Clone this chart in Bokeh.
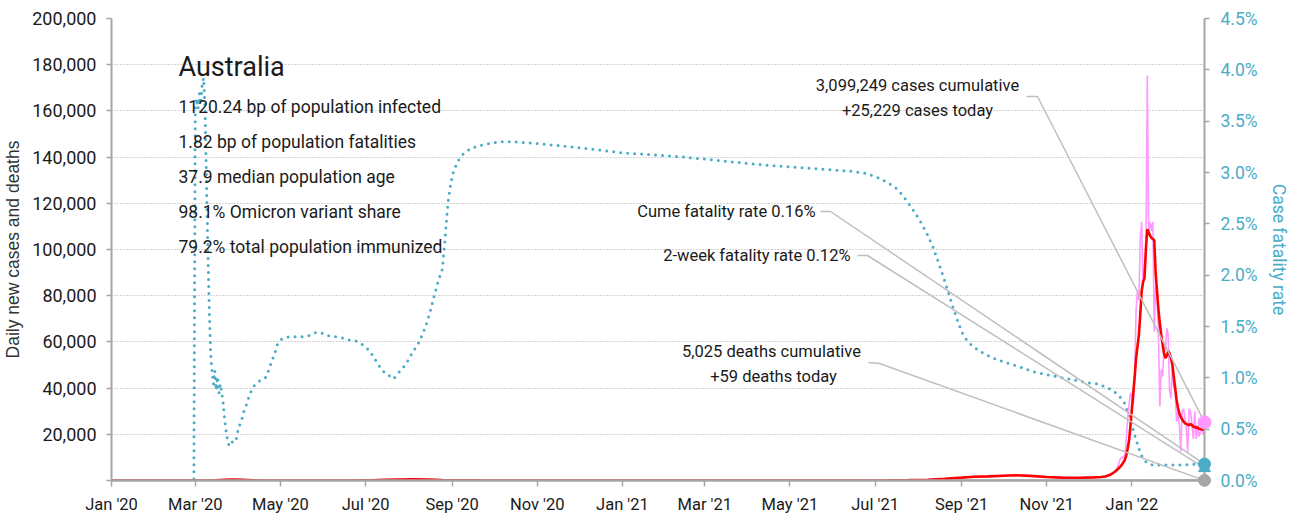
import pandas as pd
from bokeh.plotting import figure
from bokeh.models import (Range1d, LinearAxis, FixedTicker, NumeralTickFormatter,
                          PrintfTickFormatter, DatetimeTickFormatter, Label)
from bokeh.embed import file_html
from bokeh.resources import INLINE

# ---------------- data ----------------
country = "Australia"
info_lines = [
    "1120.24 bp of population infected",
    "1.82 bp of population fatalities",
    "37.9 median population age",
    "98.1% Omicron variant share",
    "79.2% total population immunized",
]

# cumulative case fatality rate (%), right axis
cfr_dates = ["2020-01-01", "2020-02-29", "2020-03-01", "2020-03-02", "2020-03-03", "2020-03-04",
             "2020-03-05", "2020-03-06", "2020-03-07", "2020-03-08", "2020-03-09", "2020-03-10",
             "2020-03-11", "2020-03-12", "2020-03-13", "2020-03-14", "2020-03-15", "2020-03-16",
             "2020-03-17", "2020-03-18", "2020-03-19", "2020-03-20", "2020-03-21", "2020-03-22",
             "2020-03-23", "2020-03-24", "2020-03-25", "2020-03-26", "2020-03-28", "2020-03-30",
             "2020-04-01", "2020-04-03", "2020-04-05", "2020-04-07", "2020-04-09", "2020-04-12",
             "2020-04-16", "2020-04-21", "2020-04-23", "2020-04-25", "2020-04-27", "2020-04-29",
             "2020-05-02", "2020-05-07", "2020-05-12", "2020-05-17", "2020-05-21", "2020-05-26",
             "2020-05-30", "2020-06-04", "2020-06-09", "2020-06-14", "2020-06-19", "2020-06-24",
             "2020-06-28", "2020-07-02", "2020-07-06", "2020-07-10", "2020-07-14", "2020-07-18",
             "2020-07-21", "2020-07-24", "2020-07-28", "2020-08-01", "2020-08-04", "2020-08-07",
             "2020-08-10", "2020-08-13", "2020-08-16", "2020-08-19", "2020-08-22", "2020-08-25",
             "2020-08-27", "2020-08-29", "2020-08-31", "2020-09-02", "2020-09-05", "2020-09-09",
             "2020-09-14", "2020-09-20", "2020-09-27", "2020-10-05", "2020-10-15", "2020-10-25",
             "2020-11-10", "2020-11-25", "2020-12-15", "2021-01-01", "2021-01-15", "2021-02-15",
             "2021-03-15", "2021-04-15", "2021-05-15", "2021-06-15", "2021-06-25", "2021-07-05",
             "2021-07-10", "2021-07-15", "2021-07-20", "2021-07-25", "2021-07-30", "2021-08-03",
             "2021-08-07", "2021-08-11", "2021-08-14", "2021-08-17", "2021-08-20", "2021-08-23",
             "2021-08-26", "2021-08-29", "2021-09-01", "2021-09-04", "2021-09-08", "2021-09-13",
             "2021-09-18", "2021-09-24", "2021-10-02", "2021-10-12", "2021-10-22", "2021-11-05",
             "2021-11-20", "2021-12-01", "2021-12-08", "2021-12-15", "2021-12-22", "2021-12-27",
             "2021-12-31", "2022-01-03", "2022-01-06", "2022-01-09", "2022-01-12", "2022-01-16",
             "2022-01-25", "2022-02-05", "2022-02-15", "2022-02-22"]
cfr_pct = [0, 0, 3.65, 3.72, 3.62, 3.77,
           3.67, 3.87, 3.92, 3.62, 2.94, 2.26,
           1.68, 1.24, 1.07, 0.94, 1.07, 0.88,
           1.01, 0.85, 0.94, 0.85, 0.75, 0.60,
           0.49, 0.41, 0.35, 0.39, 0.37, 0.38,
           0.51, 0.58, 0.68, 0.75, 0.84, 0.92,
           0.97, 1.01, 1.09, 1.17, 1.24, 1.33,
           1.38, 1.40, 1.40, 1.40, 1.41, 1.44,
           1.44, 1.41, 1.40, 1.39, 1.37, 1.36,
           1.33, 1.29, 1.22, 1.13, 1.06, 1.02,
           0.99, 1.04, 1.10, 1.18, 1.26, 1.31,
           1.40, 1.50, 1.63, 1.79, 1.94, 2.06,
           2.36, 2.70, 2.89, 3.01, 3.11, 3.18,
           3.23, 3.26, 3.28, 3.30, 3.30, 3.29,
           3.27, 3.25, 3.22, 3.19, 3.18, 3.15,
           3.11, 3.07, 3.04, 3.01, 2.99, 2.94,
           2.90, 2.86, 2.79, 2.70, 2.60, 2.51,
           2.41, 2.29, 2.18, 2.06, 1.94, 1.81,
           1.68, 1.56, 1.45, 1.38, 1.32, 1.27,
           1.23, 1.19, 1.15, 1.11, 1.06, 1.02,
           0.98, 0.95, 0.94, 0.90, 0.84, 0.75,
           0.58, 0.44, 0.31, 0.21, 0.17, 0.15,
           0.15, 0.15, 0.16, 0.16]

# 7-day average of daily new cases
avg_dates = ["2020-01-01", "2020-02-25", "2020-03-08", "2020-03-15", "2020-03-22", "2020-03-28",
             "2020-04-04", "2020-04-12", "2020-04-20", "2020-05-01", "2020-05-20", "2020-06-10",
             "2020-06-25", "2020-07-05", "2020-07-15", "2020-07-25", "2020-08-05", "2020-08-15",
             "2020-08-25", "2020-09-05", "2020-09-20", "2020-10-10", "2020-11-10", "2020-12-25",
             "2021-01-10", "2021-02-15", "2021-04-01", "2021-05-15", "2021-06-25", "2021-07-10",
             "2021-07-25", "2021-08-08", "2021-08-20", "2021-09-01", "2021-09-10", "2021-09-20",
             "2021-10-01", "2021-10-10", "2021-10-20", "2021-11-01", "2021-11-12", "2021-11-25",
             "2021-12-05", "2021-12-10", "2021-12-13", "2021-12-17", "2021-12-20", "2021-12-23",
             "2021-12-25", "2021-12-27", "2021-12-28", "2021-12-29", "2021-12-30", "2021-12-31",
             "2022-01-01", "2022-01-02", "2022-01-03", "2022-01-04", "2022-01-05", "2022-01-06",
             "2022-01-07", "2022-01-08", "2022-01-09", "2022-01-10", "2022-01-11", "2022-01-12",
             "2022-01-13", "2022-01-14", "2022-01-15", "2022-01-16", "2022-01-17", "2022-01-18",
             "2022-01-19", "2022-01-20", "2022-01-21", "2022-01-22", "2022-01-23", "2022-01-24",
             "2022-01-25", "2022-01-26", "2022-01-27", "2022-01-28", "2022-01-29", "2022-01-30",
             "2022-01-31", "2022-02-01", "2022-02-02", "2022-02-03", "2022-02-04", "2022-02-05",
             "2022-02-06", "2022-02-07", "2022-02-08", "2022-02-09", "2022-02-10", "2022-02-11",
             "2022-02-12", "2022-02-13", "2022-02-14", "2022-02-15", "2022-02-16", "2022-02-17",
             "2022-02-18", "2022-02-19", "2022-02-20", "2022-02-21", "2022-02-22"]
avg_cases = [0, 2, 15, 60, 250, 380,
             280, 100, 30, 18, 15, 12,
             40, 100, 250, 400, 550, 420,
             230, 100, 35, 20, 12, 20,
             15, 8, 10, 10, 25, 80,
             170, 350, 750, 1250, 1650, 1800,
             2050, 2250, 2000, 1500, 1250, 1200,
             1350, 1500, 1700, 2600, 3900, 5500,
             7000, 9000, 11000, 14000, 17500, 24000,
             31000, 38000, 45000, 53000, 58000, 63000,
             72000, 82000, 86000, 87500, 100000, 108700,
             107500, 106000, 105000, 104500, 104000, 90000,
             82000, 74000, 68000, 63000, 59000, 55000,
             53000, 54000, 56000, 55000, 53000, 50000,
             45000, 40000, 35000, 31500, 29000, 27500,
             26500, 25500, 24800, 24500, 24200, 23800,
             24500, 24000, 23300, 23200, 22800, 23000,
             22300, 22400, 22000, 22200, 22100]

# daily new cases
daily_dates = ["2020-01-01", "2020-02-25", "2020-03-08", "2020-03-15", "2020-03-22", "2020-03-28",
               "2020-04-04", "2020-04-12", "2020-04-20", "2020-05-01", "2020-06-10", "2020-07-05",
               "2020-07-15", "2020-07-25", "2020-08-05", "2020-08-15", "2020-08-25", "2020-09-05",
               "2020-09-20", "2020-11-10", "2021-02-15", "2021-06-25", "2021-07-25", "2021-08-08",
               "2021-08-20", "2021-09-01", "2021-09-10", "2021-09-20", "2021-10-01", "2021-10-10",
               "2021-10-20", "2021-11-01", "2021-11-12", "2021-11-25", "2021-12-05", "2021-12-12",
               "2021-12-15", "2021-12-17", "2021-12-19", "2021-12-21", "2021-12-22", "2021-12-23",
               "2021-12-24", "2021-12-25", "2021-12-26", "2021-12-27", "2021-12-28", "2021-12-29",
               "2021-12-30", "2021-12-31", "2022-01-01", "2022-01-02", "2022-01-03", "2022-01-04",
               "2022-01-05", "2022-01-06", "2022-01-07", "2022-01-08", "2022-01-09", "2022-01-10",
               "2022-01-11", "2022-01-12", "2022-01-13", "2022-01-14", "2022-01-15", "2022-01-16",
               "2022-01-17", "2022-01-18", "2022-01-19", "2022-01-20", "2022-01-21", "2022-01-22",
               "2022-01-23", "2022-01-24", "2022-01-25", "2022-01-26", "2022-01-27", "2022-01-28",
               "2022-01-29", "2022-01-30", "2022-01-31", "2022-02-01", "2022-02-02", "2022-02-03",
               "2022-02-04", "2022-02-05", "2022-02-06", "2022-02-07", "2022-02-08", "2022-02-09",
               "2022-02-10", "2022-02-11", "2022-02-12", "2022-02-13", "2022-02-14", "2022-02-15",
               "2022-02-16", "2022-02-17", "2022-02-18", "2022-02-19", "2022-02-20", "2022-02-21",
               "2022-02-22"]
daily_cases = [0, 3, 20, 70, 280, 400,
               250, 90, 25, 15, 10, 110,
               270, 420, 600, 400, 200, 90,
               30, 10, 8, 30, 180, 380,
               800, 1300, 1700, 1850, 2100, 2300,
               1950, 1450, 1200, 1250, 1400, 1600,
               2300, 3000, 3500, 4600, 6300, 8300,
               9700, 9500, 10500, 11000, 18000, 27000,
               33000, 38000, 36000, 33000, 45000, 74000,
               82000, 78000, 105000, 112000, 84000, 93000,
               96000, 175300, 108000, 112000, 108000, 112000,
               64500, 84000, 82000, 63000, 32000, 48000,
               45000, 58000, 56000, 66000, 63000, 38500,
               35500, 50000, 40000, 38500, 25500, 30000,
               24000, 12500, 30000, 31000, 27000, 22500,
               12500, 31000, 30000, 24000, 18000, 30000,
               18000, 24000, 19000, 21000, 23000, 20000,
               25229]

# daily deaths (7-day average)
death_dates = ["2020-01-01", "2020-03-01", "2020-04-05", "2020-05-01", "2020-07-01", "2020-08-10",
               "2020-09-05", "2020-10-01", "2021-08-01", "2021-09-15", "2021-10-15", "2021-11-15",
               "2021-12-15", "2022-01-10", "2022-01-25", "2022-02-10", "2022-02-22"]
death_avg = [0, 0, 5, 1, 0, 18, 10, 1, 1, 12, 15, 8, 5, 40, 80, 55, 59]

cases_cumulative = "3,099,249"
cases_today = 25229
deaths_cumulative = "5,025"
deaths_today = 59
cume_cfr = 0.16
two_week_cfr = 0.12

x_tick_dates = ["2020-01-01", "2020-03-01", "2020-05-01", "2020-07-01", "2020-09-01", "2020-11-01",
                "2021-01-01", "2021-03-01", "2021-05-01", "2021-07-01", "2021-09-01", "2021-11-01",
                "2022-01-01"]
y_ticks = [0, 20000, 40000, 60000, 80000, 100000, 120000, 140000, 160000, 180000, 200000]
cfr_ticks = [0, 0.5, 1.0, 1.5, 2.0, 2.5, 3.0, 3.5, 4.0, 4.5]

# ---------------- styling ----------------
TEAL = "#4BACC6"
RED = "#FF0000"
PINK = "#FF99FF"
GRAY = "#A6A6A6"
LEADER = "#BFBFBF"
TXT = "#1A1A1A"
FONT = "Roboto"
REG = "Liberation Sans"

x_start = pd.Timestamp("2020-01-01")
x_end = pd.Timestamp(daily_dates[-1])
Y_MAX = 200000
CFR_MAX = 4.5

# frame geometry in window pixels (used only to place annotations)
FL, FR, FT, FB = 114, 1207, 20, 482
OX, OY = 6, 2   # observed page offset of the canvas


def xd(px):
    return x_start + (x_end - x_start) * ((px - FL) / (FR - FL))


def yv(py):
    return (FB - py) / (FB - FT) * Y_MAX


p = figure(frame_width=FR - FL, frame_height=FB - FT, x_axis_type="datetime",
           x_range=Range1d(x_start, x_end), y_range=Range1d(0, Y_MAX),
           output_backend="svg", toolbar_location=None,
           min_border_left=FL - OX, min_border_right=1289 - FR, min_border_top=FT - OY,
           min_border_bottom=518 - FB)
p.outline_line_color = None
p.background_fill_color = "white"
p.border_fill_color = "white"
p.extra_y_ranges = {"cfr": Range1d(0, CFR_MAX)}

# grid
p.xgrid.visible = False
p.ygrid.grid_line_color = "#A8A8A8"
p.ygrid.grid_line_dash = "1 2"
p.ygrid.grid_line_width = 1

# left axis
ya = p.yaxis[0]
ya.ticker = FixedTicker(ticks=y_ticks)
ya.formatter = NumeralTickFormatter(format="0,0")
ya.major_label_overrides = {0: ""}
ya.axis_label = "Daily new cases and deaths"
ya.axis_label_text_font = REG
ya.axis_label_text_font_size = "17.5px"
ya.axis_label_text_font_style = "normal"
ya.axis_label_text_color = "#333333"
ya.axis_label_standoff = 6
ya.major_label_text_font = FONT
ya.major_label_text_font_size = "18px"
ya.major_label_text_color = TXT
ya.major_label_standoff = 10
ya.axis_line_color = GRAY
ya.axis_line_width = 2
ya.major_tick_line_color = GRAY
ya.major_tick_line_width = 1.5
ya.major_tick_out = 5
ya.major_tick_in = 0
ya.minor_tick_line_color = None

# bottom axis
xa = p.xaxis[0]
xa.ticker = FixedTicker(ticks=[pd.Timestamp(d).value // 10**6 for d in x_tick_dates])
xa.formatter = DatetimeTickFormatter(days="%b '%y", months="%b '%y", years="%b '%y")
xa.major_label_text_font = FONT
xa.major_label_text_font_size = "16.5px"
xa.major_label_text_color = TXT
xa.major_label_standoff = 8
xa.axis_line_color = GRAY
xa.axis_line_width = 2.5
xa.major_tick_line_color = GRAY
xa.major_tick_line_width = 1.5
xa.major_tick_out = 6
xa.major_tick_in = 0
xa.minor_tick_line_color = None

# right axis
ra = LinearAxis(y_range_name="cfr", ticker=FixedTicker(ticks=cfr_ticks),
                formatter=PrintfTickFormatter(format="%.1f%%"))
ra.axis_label = "Case fatality rate"
ra.axis_label_text_font = FONT
ra.axis_label_text_font_size = "17.5px"
ra.axis_label_text_font_style = "normal"
ra.axis_label_text_color = TEAL
ra.axis_label_standoff = 8
ra.major_label_text_font = FONT
ra.major_label_text_font_size = "17.5px"
ra.major_label_text_color = TEAL
ra.major_label_standoff = 11
ra.axis_line_color = GRAY
ra.axis_line_width = 2
ra.major_tick_line_color = GRAY
ra.major_tick_line_width = 1.5
ra.major_tick_out = 5
ra.major_tick_in = 0
ra.minor_tick_line_color = None
p.add_layout(ra, "right")

# series
p.line(pd.to_datetime(cfr_dates), cfr_pct, y_range_name="cfr", line_color=TEAL,
       line_width=3, line_dash="0 7", line_cap="round")
p.line(pd.to_datetime(death_dates), death_avg, line_color=GRAY, line_width=2)
p.line(pd.to_datetime(daily_dates), daily_cases, line_color=PINK, line_width=1.6)
p.line(pd.to_datetime(avg_dates), avg_cases, line_color=RED, line_width=2.6)

# leader lines
end = x_end
k = Y_MAX / CFR_MAX
leaders = [
    ([xd(1029), xd(1040), end], [yv(98), yv(98), cases_today]),
    ([xd(823), xd(833), end], [yv(213), yv(213), cume_cfr * k]),
    ([xd(860), xd(870), end], [yv(257), yv(257), two_week_cfr * k]),
    ([xd(871), xd(882), end], [yv(364), yv(365), deaths_today]),
]
for xs, ys in leaders:
    p.line(xs, ys, line_color=LEADER, line_width=1.5)

# end markers
m1 = p.scatter([end], [cases_today], marker="circle", size=13, fill_color=PINK, line_color=PINK)
m2 = p.scatter([end], [deaths_today], marker="circle", size=12, fill_color=GRAY, line_color=GRAY)
m3 = p.scatter([end], [two_week_cfr], y_range_name="cfr", marker="triangle", size=12,
               fill_color=TEAL, line_color=TEAL)
m4 = p.scatter([end], [cume_cfr], y_range_name="cfr", marker="circle", size=12,
               fill_color=TEAL, line_color=TEAL)
for m in (m1, m2, m3, m4):
    m.level = "overlay"


def add_label(px, py, text, size, align="left", font=FONT, color=TXT):
    p.add_layout(Label(x=xd(px), y=yv(py), text=text, text_font=font,
                       text_font_size=size, text_color=color, text_align=align,
                       text_baseline="middle"))


add_label(181, 68, country, "27px")
for i, line in enumerate(info_lines):
    add_label(181, 108 + 35 * i, line, "17.5px")

add_label(920, 87, f"{cases_cumulative} cases cumulative", "16.5px", "center")
add_label(920, 112, f"+{cases_today:,} cases today", "16.5px", "center")
add_label(818, 213, f"Cume fatality rate {cume_cfr:.2f}%", "16.5px", "right")
add_label(853, 257, f"2-week fatality rate {two_week_cfr:.2f}%", "16.5px", "right")
add_label(774, 353, f"{deaths_cumulative} deaths cumulative", "16.5px", "center")
add_label(776, 378, f"+{deaths_today} deaths today", "16.5px", "center")

open("out.html", "w").write(file_html(p, INLINE))
